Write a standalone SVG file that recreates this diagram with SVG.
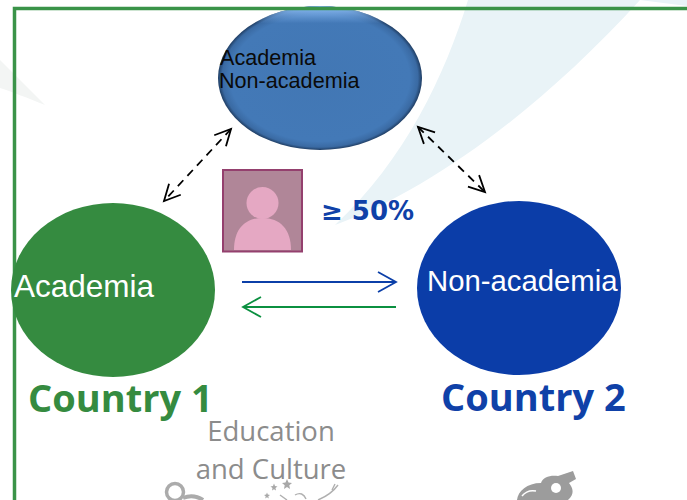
<svg xmlns="http://www.w3.org/2000/svg" width="687" height="500" viewBox="0 0 687 500">
<defs>
<radialGradient id="topFill" cx="50%" cy="50%" r="50%">
<stop offset="0" stop-color="#4277b4"/><stop offset="0.88" stop-color="#4379b7"/><stop offset="0.96" stop-color="#3a6aa3"/><stop offset="1" stop-color="#1f3d63"/>
</radialGradient>
<linearGradient id="topSheen" x1="0" y1="0" x2="0" y2="1">
<stop offset="0.02" stop-color="#8abcf5" stop-opacity="0.9"/><stop offset="0.12" stop-color="#7fb0ea" stop-opacity="0"/>
</linearGradient>
<marker id="open" markerWidth="22" markerHeight="18" refX="19" refY="9" orient="auto-start-reverse" markerUnits="userSpaceOnUse">
<path d="M3 1 L19 9 L3 17" fill="none" stroke="#000" stroke-width="1.800"/>
</marker>
<marker id="blueHead" markerWidth="22" markerHeight="24" refX="19" refY="12" orient="auto" markerUnits="userSpaceOnUse">
<path d="M1 2 L19 12 L1 22" fill="none" stroke="#0b3fa8" stroke-width="1.800"/>
</marker>
<marker id="greenHead" markerWidth="22" markerHeight="24" refX="19" refY="12" orient="auto" markerUnits="userSpaceOnUse">
<path d="M1 2 L19 12 L1 22" fill="none" stroke="#0b9040" stroke-width="1.800"/>
</marker>
<style>
text{font-family:"Liberation Sans",Arial,sans-serif}
.country{font-family:"Open Sans","DejaVu Sans",sans-serif;font-weight:700;font-size:38px}
.edu{font-family:"Open Sans","Liberation Sans",sans-serif;font-size:27.500px;fill:#8c8c8c}
.deco{fill:#e9f3f7}
.dash{fill:none;stroke:#000;stroke-width:1.800;stroke-dasharray:8 6;marker-start:url(#open);marker-end:url(#open)}
</style>
</defs>
<rect width="687" height="500" fill="#fff"/>
<g id="background">
<path class="deco" d="M468 0 C445 75 405 160 335 225 C430 190 540 110 640 0Z"/>
<path d="M640 0 L687 0 L687 6 Z" fill="#e9f3f7"/>
<path d="M0 60 C15 75 30 90 45 105 C28 98 12 92 0 88Z" fill="#f3f5f4"/>
</g>
<g id="node-top">
<ellipse cx="320" cy="78" rx="102" ry="72" fill="url(#topFill)"/>
<ellipse cx="320" cy="78" rx="102" ry="72" fill="url(#topSheen)"/>
<text x="220" y="65" font-size="21.600" fill="#0a0a0a">Academia</text>
<text x="219" y="88" font-size="21.600" fill="#0a0a0a">Non-academia</text>
</g>
<rect id="frame" x="14.500" y="8.500" width="690" height="520" fill="none" stroke="#3a9348" stroke-width="3.500"/>
<g id="connectors">
<line class="dash" x1="231" y1="129" x2="164" y2="201"/>
<line class="dash" x1="418" y1="127" x2="485" y2="192"/>
<line x1="242" y1="282" x2="396" y2="282" stroke="#0b3fa8" stroke-width="1.800" marker-end="url(#blueHead)"/>
<line x1="396" y1="307" x2="243" y2="307" stroke="#0b9040" stroke-width="1.800" marker-end="url(#greenHead)"/>
</g>
<g id="node-person">
<rect x="223" y="170" width="79" height="81.500" fill="#b08698" stroke="#94406e" stroke-width="2"/>
<circle cx="262.500" cy="203" r="16" fill="#e5a8c3"/>
<path d="M234 250 C234 229 245 218 262.500 218 C280 218 291 229 291 250Z" fill="#e5a8c3"/>
</g>
<text id="label-percent" x="321" y="220" font-weight="700" font-size="26" fill="#0f41a8" style="font-family:'DejaVu Sans',sans-serif">≥ 50%</text>
<g id="node-academia">
<ellipse cx="113" cy="290" rx="102" ry="87" fill="#358b40"/>
<text x="14" y="297" font-size="31.500" fill="#fff">Academia</text>
</g>
<g id="node-nonacademia">
<ellipse cx="519" cy="288" rx="102" ry="87" fill="#0b3da8"/>
<text x="427" y="291" font-size="29.300" fill="#fff">Non-academia</text>
</g>
<text id="label-country1" class="country" x="28" y="412" fill="#358b40">Country 1</text>
<text id="label-country2" class="country" x="441" y="411" fill="#0f41a8">Country 2</text>
<g id="logo">
<text class="edu" x="271" y="441" text-anchor="middle">Education</text>
<text class="edu" x="271" y="479" text-anchor="middle">and Culture</text>
<circle cx="175" cy="492" r="8.500" fill="none" stroke="#ababab" stroke-width="3.500"/>
<path d="M183 498 C190 495 197 496 203 500" stroke="#ababab" stroke-width="4" fill="none"/>
<g fill="#a8a8a8">
<path d="M287 479 L288.500 482.500 L292 483 L289.300 485.200 L290 489 L287 487 L284 489 L284.700 485.200 L282 483 L285.500 482.500Z"/>
<path d="M274 483.500 L275 486 L277.500 486.500 L275.500 488 L276 490.500 L274 489.200 L272 490.500 L272.500 488 L270.500 486.500 L273 486Z"/>
<path d="M267 492.500 L267.800 494.500 L270 495 L268.300 496.300 L268.800 498.500 L267 497.300 L265.200 498.500 L265.700 496.300 L264 495 L266.200 494.500Z"/>
</g>
<path d="M280 495 L287 500 M295 495 C300 492 304 494 306 499 M318 500 C325 497 333 492 338 485 M332 490 L335 484" fill="none" stroke="#b0b0b0" stroke-width="1.400"/>
<path d="M517 500 C518 491 527 483 541 483 C543 477 550 475 558 476 L573 471 L576 479 L569 483 C573 488 575 494 568 500Z" fill="#9c9c9c"/>
<circle cx="556" cy="488" r="5" fill="#fff"/>
<path d="M522 496 C526 491 531 490 536 491" fill="none" stroke="#fff" stroke-width="1.500"/>
</g>
</svg>
